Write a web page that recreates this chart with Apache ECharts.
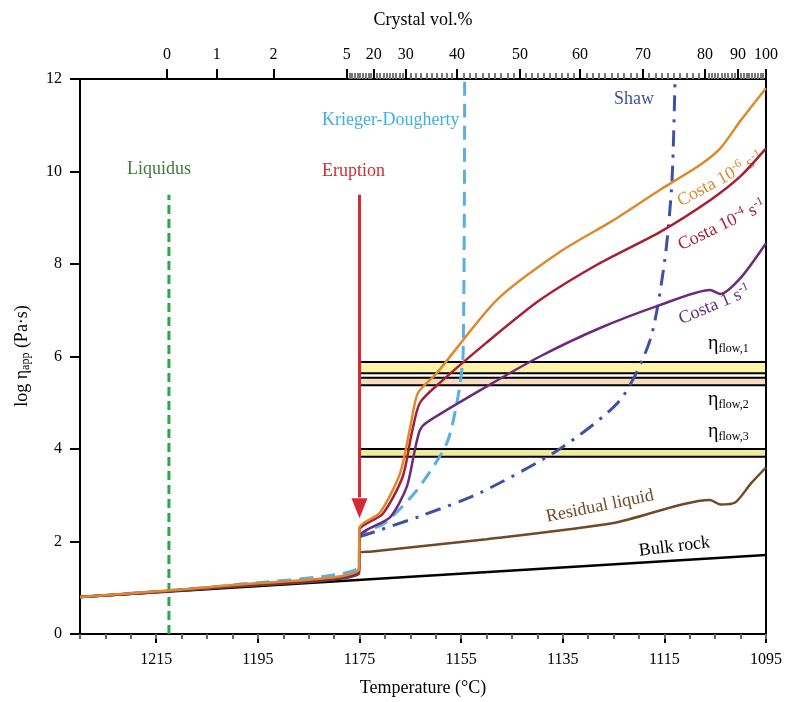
<!DOCTYPE html>
<html><head><meta charset="utf-8">
<script src="https://cdn.jsdelivr.net/npm/echarts@6/dist/echarts.min.js"></script>
<style>html,body{margin:0;background:#fff}#chart{width:788px;height:702px}</style>
</head><body><div id="chart"></div>
<script>
// temperature ticks
var tempLabels = [1215, 1195, 1175, 1155, 1135, 1115, 1095];
// crystal vol.% top axis: label -> temperature position
var crystalLabels = ['0', '1', '2', '5', '20', '30', '40', '50', '60', '70', '80', '90', '100'];
var crystalTemps = [1212.9, 1203.1, 1191.9, 1177.5, 1172.2, 1165.9, 1155.8, 1143.4, 1131.6, 1119.2, 1107.0, 1100.5, 1095];
// series, [T, log eta]
var bulkRock = [[1230, 0.8], [1095, 1.71]];
var residual = [[1230, 0.8], [1200, 1.02], [1175.1, 1.3], [1175, 1.75], [1173, 1.78], [1150, 2.05], [1125, 2.4], [1106, 2.9], [1104, 2.8], [1101, 2.85], [1098, 3.25], [1095, 3.6]];
var costa1 = [[1230, 0.8], [1200, 1.04], [1175.1, 1.35], [1175, 2.1], [1169, 2.52], [1165.7, 3.18], [1164.1, 3.98], [1163.1, 4.41], [1161.7, 4.58], [1150, 5.35], [1139.5, 6.0], [1128, 6.6], [1115.9, 7.11], [1106, 7.44], [1104, 7.35], [1100, 7.7], [1095, 8.45]];
var costa4 = [[1230, 0.8], [1200, 1.05], [1175.1, 1.38], [1175, 2.25], [1170.4, 2.6], [1166.5, 3.4], [1164.7, 4.35], [1163.1, 5.0], [1159.2, 5.43], [1150, 6.3], [1139.5, 7.22], [1128, 8.0], [1115.9, 8.69], [1106, 9.38], [1100, 9.9], [1095, 10.5]];
var costa6 = [[1230, 0.8], [1200, 1.06], [1175.1, 1.4], [1175, 2.3], [1171, 2.62], [1167, 3.48], [1165, 4.48], [1163.5, 5.21], [1159.8, 5.64], [1148, 7.22], [1135.6, 8.26], [1125, 8.95], [1115.9, 9.6], [1108, 10.14], [1104, 10.5], [1100, 11.1], [1095, 11.8]];
var krieger = [[1230, 0.8], [1200, 1.06], [1175.1, 1.45], [1175, 2.1], [1170, 2.4], [1163.7, 3.11], [1157.8, 4.13], [1155.5, 5.2], [1154.6, 6.08], [1154.3, 12]];
var shaw = [[1175, 2.1], [1163, 2.55], [1151.3, 3.05], [1135.6, 4.0], [1123.7, 5.06], [1117.8, 6.36], [1114.9, 8.1], [1113.5, 9.8], [1112.9, 12]];
var liquidusT = 1212.5, eruptionT = 1175;
var flowBands = [[5.64, 5.88, '#fff5a8'], [5.38, 5.54, '#f7dcc0'], [3.83, 4.0, '#f1ec9c']];

var serif = 'Liberation Serif';
var minorTop = [];
for (var i = 3; i < crystalTemps.length - 1; i++) {
	var a = crystalTemps[i], b = crystalTemps[i + 1];
	for (var k = 1; k < 10; k++) minorTop.push(a + (b - a) * k / 10);
}
var minorBottom = [];
for (var t = 1230; t >= 1095; t -= 5) minorBottom.push(t);

var myChart = echarts.init(document.getElementById('chart'));
function line(data, color, width, type) {
	return { type: 'line', data: data, symbol: 'none', smooth: 0.25, xAxisIndex: 0, lineStyle: { color: color, width: width || 2.5, type: type || 'solid' }, z: 3 };
}
var bandSeries = {
	type: 'line', data: [], symbol: 'none',
	markArea: { silent: true, itemStyle: { borderColor: '#000', borderWidth: 2 }, data: flowBands.map(function (b) {
		return [{ coord: [eruptionT, b[1]], itemStyle: { color: b[2] } }, { coord: [1095, b[0]] }];
	}) }, z: 1
};
function plain(v) { return String(v); }
var option = {
	animation: false,
	grid: { left: 80, right: 22, top: 79, bottom: 68 },
	xAxis: [
		{ type: 'value', min: 1095, max: 1230, inverse: true, position: 'bottom',
			name: 'Temperature (°C)', nameLocation: 'middle', nameGap: 45, nameTextStyle: { fontFamily: serif, fontSize: 18, color: '#000' },
			axisLine: { lineStyle: { color: '#000', width: 2 } }, splitLine: { show: false },
			axisTick: { customValues: tempLabels, length: 9, lineStyle: { width: 2, color: '#000' } },
			axisLabel: { customValues: tempLabels, formatter: plain, fontFamily: serif, fontSize: 16, color: '#000', margin: 18 } },
		{ type: 'value', min: 1095, max: 1230, inverse: true, position: 'bottom',
			axisLine: { show: false }, splitLine: { show: false }, axisLabel: { show: false },
			axisTick: { customValues: minorBottom, length: 5, lineStyle: { width: 2, color: '#666' } } },
		{ type: 'value', min: 1095, max: 1230, inverse: true, position: 'top',
			name: 'Crystal vol.%', nameLocation: 'middle', nameGap: 50, nameTextStyle: { fontFamily: serif, fontSize: 18, color: '#000' },
			axisLine: { lineStyle: { color: '#000', width: 2 } }, splitLine: { show: false },
			axisTick: { customValues: crystalTemps, length: 10, lineStyle: { width: 2, color: '#000' } },
			axisLabel: { customValues: crystalTemps, fontFamily: serif, fontSize: 16, color: '#000', margin: 16,
				formatter: function (v) { var i = crystalTemps.indexOf(v); return i >= 0 ? crystalLabels[i] : ''; } } },
		{ type: 'value', min: 1095, max: 1230, inverse: true, position: 'top',
			axisLine: { show: false }, splitLine: { show: false }, axisLabel: { show: false },
			axisTick: { customValues: minorTop, length: 6, lineStyle: { width: 2, color: '#777' } } }
	],
	yAxis: [
		{ type: 'value', min: 0, max: 12, interval: 2,
			axisLine: { show: true, lineStyle: { color: '#000', width: 2 } }, splitLine: { show: false },
			axisTick: { show: true, length: 10, lineStyle: { width: 2, color: '#000' } },
			axisLabel: { fontFamily: serif, fontSize: 16, color: '#000', margin: 18 } },
		{ type: 'value', min: 0, max: 12, position: 'right', axisLine: { show: true, lineStyle: { color: '#000', width: 2 } },
			axisTick: { show: false }, axisLabel: { show: false }, splitLine: { show: false } }
	],
	series: [
		bandSeries,
		line(bulkRock, '#000', 2.5),
		line(residual, '#6e4a26', 2.5),
		line(krieger, '#5aaee3', 3, [14, 8]),
		line(shaw, '#3f51a5', 3, [16, 8, 3, 8]),
		line(costa1, '#6b2a7b', 2.5),
		line(costa4, '#a81e34', 2.5),
		line(costa6, '#dd8a2e', 2.5),
		{ type: 'line', data: [[liquidusT, 0], [liquidusT, 9.5]], symbol: 'none', lineStyle: { color: '#27a84a', width: 3, type: [9, 5] }, z: 2 },
		{ type: 'line', data: [[eruptionT, 9.5], [eruptionT, 2.95]], symbol: 'none', lineStyle: { color: '#d42a35', width: 3 }, z: 4 },
		{ type: 'scatter', data: [[eruptionT, 2.72]], symbol: 'triangle', symbolRotate: 180, symbolSize: [16, 20], itemStyle: { color: '#d42a35', opacity: 1 }, z: 4 }
	],
	graphic: [
		{ type: 'text', left: 127, top: 160, style: { text: 'Liquidus', font: '18px ' + serif, fill: '#3f7b3a' } },
		{ type: 'text', left: 322, top: 162, style: { text: 'Eruption', font: '18px ' + serif, fill: '#d42a35' } },
		{ type: 'text', left: 322, top: 111, style: { text: 'Krieger-Dougherty', font: '18px ' + serif, fill: '#3db0e6' } },
		{ type: 'text', left: 614, top: 90, style: { text: 'Shaw', font: '18px ' + serif, fill: '#3f51a5' } },
		{ type: 'text', x: 548, y: 526, rotation: 0.2, style: { text: 'Residual liquid', font: '18px ' + serif, fill: '#6e4a26', align: 'left', verticalAlign: 'bottom' } },
		{ type: 'text', x: 640, y: 560, rotation: 0.12, style: { text: 'Bulk rock', font: '18px ' + serif, fill: '#000', align: 'left', verticalAlign: 'bottom' } },
		{ type: 'text', x: 684, y: 212, rotation: 0.5, style: { text: '{a|Costa 10}{s|-6}{a| s}{s|-1}', fill: '#dd8a2e', verticalAlign: 'bottom',
			rich: { a: { font: '18px ' + serif, fill: '#dd8a2e' }, s: { font: '12px ' + serif, fill: '#dd8a2e', padding: [0, 0, 10, 0] } } } },
		{ type: 'text', x: 684, y: 256, rotation: 0.45, style: { text: '{a|Costa 10}{s|-4}{a| s}{s|-1}', fill: '#a81e34', verticalAlign: 'bottom',
			rich: { a: { font: '18px ' + serif, fill: '#a81e34' }, s: { font: '12px ' + serif, fill: '#a81e34', padding: [0, 0, 10, 0] } } } },
		{ type: 'text', x: 684, y: 330, rotation: 0.4, style: { text: '{a|Costa 1 s}{s|-1}', fill: '#6b2a7b', verticalAlign: 'bottom',
			rich: { a: { font: '18px ' + serif, fill: '#6b2a7b' }, s: { font: '12px ' + serif, fill: '#6b2a7b', padding: [0, 0, 10, 0] } } } },
		{ type: 'text', left: 708, top: 334, style: { text: '{a|η}{s|flow,1}', rich: { a: { font: '20px ' + serif, fill: '#000' }, s: { font: '12px ' + serif, fill: '#000', padding: [10, 0, 0, 0] } } } },
		{ type: 'text', left: 708, top: 390, style: { text: '{a|η}{s|flow,2}', rich: { a: { font: '20px ' + serif, fill: '#000' }, s: { font: '12px ' + serif, fill: '#000', padding: [10, 0, 0, 0] } } } },
		{ type: 'text', left: 708, top: 422, style: { text: '{a|η}{s|flow,3}', rich: { a: { font: '20px ' + serif, fill: '#000' }, s: { font: '12px ' + serif, fill: '#000', padding: [10, 0, 0, 0] } } } },
		{ type: 'text', x: 22, y: 356, rotation: Math.PI / 2, style: { text: '{a|log η}{s|app}{a| (Pa·s)}', align: 'center', verticalAlign: 'middle',
			rich: { a: { font: '18px ' + serif, fill: '#000' }, s: { font: '12px ' + serif, fill: '#000', padding: [8, 0, 0, 0] } } } }
	]
};
myChart.setOption(option);
</script></body></html>
